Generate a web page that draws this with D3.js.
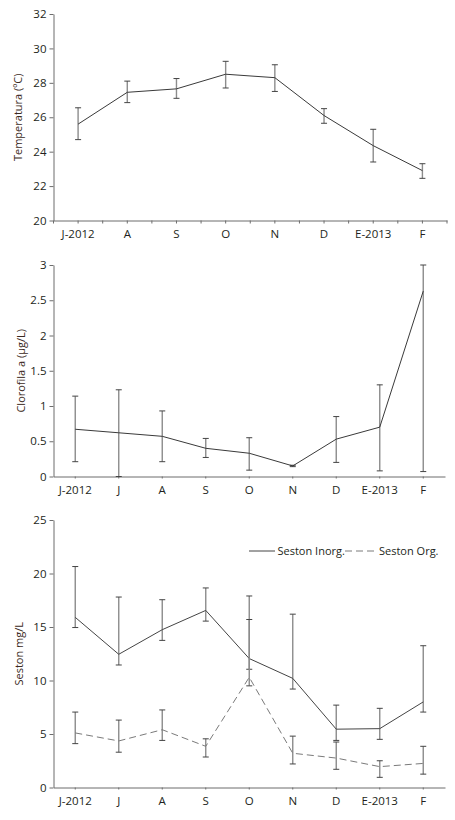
<!DOCTYPE html>
<html>
<head>
<meta charset="utf-8">
<script src="https://cdn.jsdelivr.net/npm/d3@7"></script>
<style>
  body { margin: 0; background: #fff; }
  svg text { font-family: "Open Sans", sans-serif; fill: #231f20; }
</style>
</head>
<body>
<script>
// Temperatura
const tempMonths = ["J-2012", "A", "S", "O", "N", "D", "E-2013", "F"];
const tempMean = [25.6, 27.45, 27.65, 28.5, 28.3, 26.1, 24.35, 22.9];
const tempHi = [26.55, 28.1, 28.25, 29.25, 29.05, 26.5, 25.3, 23.3];
const tempLo = [24.7, 26.85, 27.1, 27.7, 27.5, 25.65, 23.4, 22.45];
const tempTicks = [20, 22, 24, 26, 28, 30, 32];

// Clorofila a
const months = ["J-2012", "J", "A", "S", "O", "N", "D", "E-2013", "F"];
const chlMean = [0.67, 0.62, 0.57, 0.4, 0.33, 0.15, 0.53, 0.7, 2.63];
const chlHi = [1.14, 1.23, 0.93, 0.54, 0.55, 0.16, 0.85, 1.3, 3.0];
const chlLo = [0.21, 0, 0.21, 0.27, 0.09, 0.14, 0.2, 0.08, 0.07];
const chlTicks = [0, 0.5, 1, 1.5, 2, 2.5, 3];

// Seston
const inorgMean = [15.9, 12.45, 14.75, 16.55, 12.05, 10.2, 5.45, 5.5, 8.0];
const inorgHi = [20.65, 17.8, 17.55, 18.65, 17.9, 16.2, 7.7, 7.4, 13.25];
const inorgLo = [14.95, 11.45, 13.75, 15.55, 11.05, 9.2, 4.4, 4.5, 7.05];
const orgMean = [5.1, 4.35, 5.4, 3.85, 10.3, 3.2, 2.75, 1.95, 2.25];
const orgHi = [7.05, 6.3, 7.25, 4.55, 15.7, 4.8, 4.25, 2.5, 3.85];
const orgLo = [4.1, 3.3, 4.4, 2.85, 9.5, 2.2, 1.7, 0.95, 1.25];
const sestonTicks = [0, 5, 10, 15, 20, 25];
const legendNames = ["Seston Inorg.", "Seston Org."];

const svg = d3.select("body").append("svg")
  .attr("width", 455)
  .attr("height", 820);

function panel(opt) {
  const x = d3.scaleBand().domain(opt.cats).range([opt.x0, opt.x1]);
  const y = d3.scaleLinear().domain(opt.domain).range([opt.y1, opt.y0]);
  const g = svg.append("g");
  const tk = opt.tick || 2;

  // axes
  const ax = g.append("g")
    .attr("transform", `translate(0,${opt.y1})`)
    .call(d3.axisBottom(x).tickSizeInner(tk).tickSizeOuter(0).tickPadding(9 - tk));
  if (opt.boundaryTicks) {
    ax.selectAll(".tick")
      .append("line")
      .attr("x1", -x.bandwidth() / 2).attr("x2", -x.bandwidth() / 2)
      .attr("y2", tk);
    ax.append("line")
      .attr("x1", opt.x1).attr("x2", opt.x1).attr("y2", tk);
  }

  const ay = g.append("g")
    .attr("transform", `translate(${opt.x0},0)`)
    .call(d3.axisLeft(y).tickValues(opt.ticks).tickSizeInner(4).tickSizeOuter(0).tickPadding(3)
      .tickFormat(d3.format("~g")));

  [ax, ay].forEach(a => {
    a.selectAll("path, line").attr("stroke", "#6d6d6d");
    a.selectAll("text").attr("font-size", 11.5).attr("fill", "#231f20");
  });

  g.append("text")
    .attr("transform", `translate(${opt.titleX},${(opt.y0 + opt.y1) / 2}) rotate(-90)`)
    .attr("text-anchor", "middle")
    .attr("font-size", 11)
    .style("fill", "#3b2a22")
    .text(opt.title);

  opt.series.forEach(s => {
    const cx = d => x(d) + x.bandwidth() / 2;
    // error bars
    g.append("g").selectAll("line")
      .data(opt.cats)
      .join("line")
      .attr("x1", cx).attr("x2", cx)
      .attr("y1", (d, i) => y(s.hi[i]))
      .attr("y2", (d, i) => y(s.lo[i]))
      .attr("stroke", s.barColor)
      .attr("stroke-width", 1.4);
    ["hi", "lo"].forEach(k => {
      g.append("g").selectAll("line")
        .data(opt.cats)
        .join("line")
        .attr("x1", d => cx(d) - 3).attr("x2", d => cx(d) + 3)
        .attr("y1", (d, i) => y(s[k][i]))
        .attr("y2", (d, i) => y(s[k][i]))
        .attr("stroke", "#444")
        .attr("stroke-width", 1);
    });
    g.append("path")
      .datum(s.mean)
      .attr("fill", "none")
      .attr("stroke", s.color)
      .attr("stroke-width", 1)
      .attr("stroke-dasharray", s.dash || null)
      .attr("d", d3.line().x((d, i) => cx(opt.cats[i])).y(d => y(d)));
  });
  return { x, y, g };
}

panel({
  cats: tempMonths, domain: [20, 32], ticks: tempTicks,
  x0: 53.5, x1: 447, y0: 14, y1: 220.5, titleX: 22, tick: 3, boundaryTicks: true,
  title: "Temperatura (ºC)",
  series: [{ mean: tempMean, hi: tempHi, lo: tempLo, color: "#3a3a3a", barColor: "#8c8c8c" }]
});

panel({
  cats: months, domain: [0, 3], ticks: chlTicks,
  x0: 53.5, x1: 445, y0: 265, y1: 476.5, titleX: 25,
  title: "Clorofila a (µg/L)",
  series: [{ mean: chlMean, hi: chlHi, lo: chlLo, color: "#3a3a3a", barColor: "#8c8c8c" }]
});

panel({
  cats: months, domain: [0, 25], ticks: sestonTicks,
  x0: 53.5, x1: 445, y0: 520, y1: 787.5, titleX: 23,
  title: "Seston mg/L",
  series: [
    { mean: inorgMean, hi: inorgHi, lo: inorgLo, color: "#444", barColor: "#8c8c8c" },
    { mean: orgMean, hi: orgHi, lo: orgLo, color: "#7a7a7a", barColor: "#8c8c8c", dash: "7,4" }
  ]
});

// legend
const leg = svg.append("g").attr("transform", "translate(249,551)");
leg.append("line").attr("x2", 26).attr("stroke", "#444");
leg.append("text").attr("x", 28.5).attr("y", 4).attr("font-size", 11).text(legendNames[0]);
leg.append("line").attr("x1", 96).attr("x2", 128).attr("stroke", "#7a7a7a").attr("stroke-dasharray", "7,4");
leg.append("text").attr("x", 130).attr("y", 4).attr("font-size", 11).text(legendNames[1]);
</script>
</body>
</html>
